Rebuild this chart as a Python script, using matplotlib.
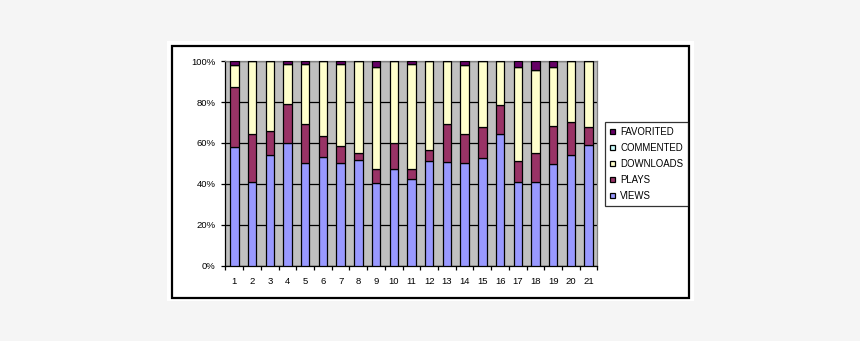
import numpy as np
import matplotlib.pyplot as plt
from matplotlib.patches import Rectangle

# share of each activity per item, in percent of the item's total
items = [str(i) for i in range(1, 22)]
views = [57.9, 40.8, 54.0, 59.9, 50.1, 53.0, 50.1, 51.6, 40.3, 47.2, 42.3,
         51.4, 50.6, 50.1, 52.8, 64.3, 40.8, 40.8, 49.6, 54.0, 58.9]
plays = [29.4, 23.5, 11.8, 19.1, 19.1, 10.3, 8.3, 3.4, 6.9, 12.7, 4.9,
         5.1, 18.6, 14.2, 14.9, 14.2, 10.3, 14.2, 18.6, 16.2, 8.8]
downloads = [10.8, 35.7, 34.2, 19.6, 29.4, 36.7, 40.2, 45.0, 50.0, 40.1, 51.7,
             43.5, 30.8, 34.1, 32.3, 21.5, 46.1, 40.7, 29.0, 29.8, 32.3]
commented = [0.0] * 21
favorited = [1.9, 0.0, 0.0, 1.4, 1.4, 0.0, 1.4, 0.0, 2.8, 0.0, 1.1,
             0.0, 0.0, 1.6, 0.0, 0.0, 2.8, 4.3, 2.8, 0.0, 0.0]

series = [
    ('VIEWS', views, '#9999FF'),
    ('PLAYS', plays, '#993366'),
    ('DOWNLOADS', downloads, '#FFFFCC'),
    ('COMMENTED', commented, '#CCFFFF'),
    ('FAVORITED', favorited, '#660066'),
]

plt.rcParams['font.family'] = ['Liberation Sans', 'DejaVu Sans']

W, H = 860, 341
fig = plt.figure(figsize=(W / 100, H / 100), dpi=100)
fig.patch.set_facecolor('#F5F5F5')

def box(x0, y0, x1, y1, **kw):
    # pixel box (top-left origin) -> figure rectangle
    return Rectangle((x0 / W, 1 - y1 / H), (x1 - x0) / W, (y1 - y0) / H,
                     transform=fig.transFigure, **kw)

fig.patches.append(box(167, 41, 694, 301, facecolor='white', edgecolor='none',
                       zorder=-2))
fig.patches.append(box(171.5, 45.5, 689, 297.5, facecolor='none',
                       edgecolor='black', linewidth=1.6, zorder=-1))

ax = fig.add_axes([225.5 / W, 1 - 265.5 / H, 372 / W, 204.2 / H])
ax.set_facecolor('#C0C0C0')

x = np.arange(len(items))
bottom = np.zeros(len(items))
handles = []
for name, vals, color in series:
    vals = np.array(vals)
    b = ax.bar(x, vals, width=0.47, bottom=bottom, color=color,
               edgecolor='black', linewidth=0.9, label=name, zorder=3)
    handles.append(b)
    bottom += vals

ax.set_xlim(-0.5, len(items) - 0.5)
ax.set_ylim(0, 100)

ax.set_yticks(np.arange(0, 101, 20))
ax.set_yticklabels(['%d%%' % v for v in range(0, 101, 20)], fontsize=6.8)
ax.yaxis.grid(True, color='black', linewidth=0.9, zorder=1)
ax.set_axisbelow(True)

# category labels sit between the boundary ticks
ax.set_xticks(np.arange(-0.5, len(items), 1.0))
ax.set_xticklabels([])
ax.set_xticks(x, minor=True)
ax.set_xticklabels(items, minor=True, fontsize=6.8)
ax.tick_params(axis='x', which='minor', length=0, pad=8)
ax.tick_params(axis='x', which='major', length=3, width=0.9, color='black')
ax.tick_params(axis='y', length=3, width=0.9, color='black', pad=4)

for side in ('top', 'right'):
    ax.spines[side].set_color('#808080')
    ax.spines[side].set_linewidth(0.9)
for side in ('left', 'bottom'):
    ax.spines[side].set_color('black')
    ax.spines[side].set_linewidth(0.9)

leg = fig.legend(handles[::-1], [s[0] for s in series][::-1],
                 loc='upper left', bbox_to_anchor=(605 / W, 1 - 122 / H),
                 fontsize=6.9, frameon=True, fancybox=False,
                 handlelength=0.55, handleheight=0.55, handletextpad=0.55,
                 labelspacing=0.63, borderpad=0.5, borderaxespad=0)
leg.get_frame().set_edgecolor('black')
leg.get_frame().set_linewidth(0.9)

fig.savefig('out.png', dpi=100, facecolor=fig.get_facecolor())
